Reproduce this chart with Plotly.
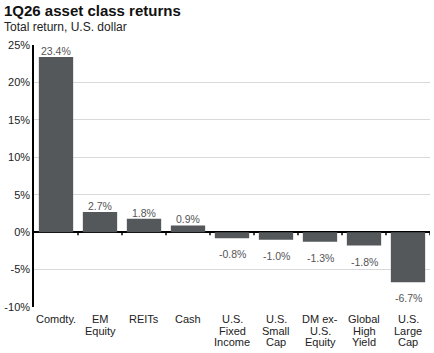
import plotly.graph_objects as go

categories = ["Comdty.", "EM<br>Equity", "REITs", "Cash", "U.S.<br>Fixed<br>Income",
              "U.S.<br>Small<br>Cap", "DM ex-<br>U.S.<br>Equity", "Global<br>High<br>Yield",
              "U.S.<br>Large<br>Cap"]
returns = [23.4, 2.7, 1.8, 0.9, -0.8, -1.0, -1.3, -1.8, -6.7]
labels = ["23.4%", "2.7%", "1.8%", "0.9%", "-0.8%", "-1.0%", "-1.3%", "-1.8%", "-6.7%"]
y_ticks = [25, 20, 15, 10, 5, 0, -5, -10]
y_tick_text = ["25%", "20%", "15%", "10%", "5%", "0%", "-5%", "-10%"]

bar_color = "#55585a"
FONT = "Arial, Liberation Sans"

fig = go.Figure(go.Bar(x=categories, y=returns, marker_color=bar_color,
                       marker_line_width=0, hoverinfo="skip"))

for c, v, t in zip(categories, returns, labels):
    fig.add_annotation(x=c, y=v, text=t, showarrow=False,
                       yshift=6 if v > 0 else -16,
                       font=dict(family=FONT, size=10.5, color="#555555"))

# category labels with tight line spacing
for c in categories:
    for i, line in enumerate(c.split("<br>")):
        fig.add_annotation(x=c, y=0, yref="paper", text=line, showarrow=False,
                           yanchor="middle", yshift=-12 - i * 11.5,
                           font=dict(family=FONT, size=11, color="#222222"))

# small tick marks on the zero line at category boundaries
for i in range(len(categories)):
    fig.add_shape(type="line", xref="x", yref="y", x0=i + 0.5, x1=i + 0.5,
                  y0=0, y1=-0.4, line=dict(color="#000000", width=1.5))

fig.update_layout(
    width=434, height=353,
    margin=dict(l=34, r=4, t=45, b=46),
    paper_bgcolor="white", plot_bgcolor="white",
    bargap=0.22, showlegend=False,
    font=dict(family=FONT, color="#222222"),
)
fig.add_annotation(xref="paper", yref="paper", x=0, y=1, xanchor="left", yanchor="bottom",
                   xshift=-32, yshift=24, text="<b>1Q26 asset class returns</b>",
                   showarrow=False, font=dict(size=15, color="#111111"))
fig.add_annotation(xref="paper", yref="paper", x=0, y=1, xanchor="left", yanchor="bottom",
                   xshift=-32, yshift=9, text="Total return, U.S. dollar",
                   showarrow=False, font=dict(size=12, color="#222222"))

fig.update_xaxes(showticklabels=False, showgrid=False,
                 showline=False, ticks="", range=[-0.5, len(categories) - 0.5])
fig.update_yaxes(range=[-10, 25], tickvals=y_ticks, ticktext=y_tick_text,
                 tickfont=dict(size=11, color="#222222"),
                 showgrid=True, gridcolor="#d9d9d9", gridwidth=1,
                 zeroline=True, zerolinecolor="#000000", zerolinewidth=1.5,
                 showline=True, linecolor="#000000", linewidth=1.5, ticks="")

fig.write_html("out.html")
